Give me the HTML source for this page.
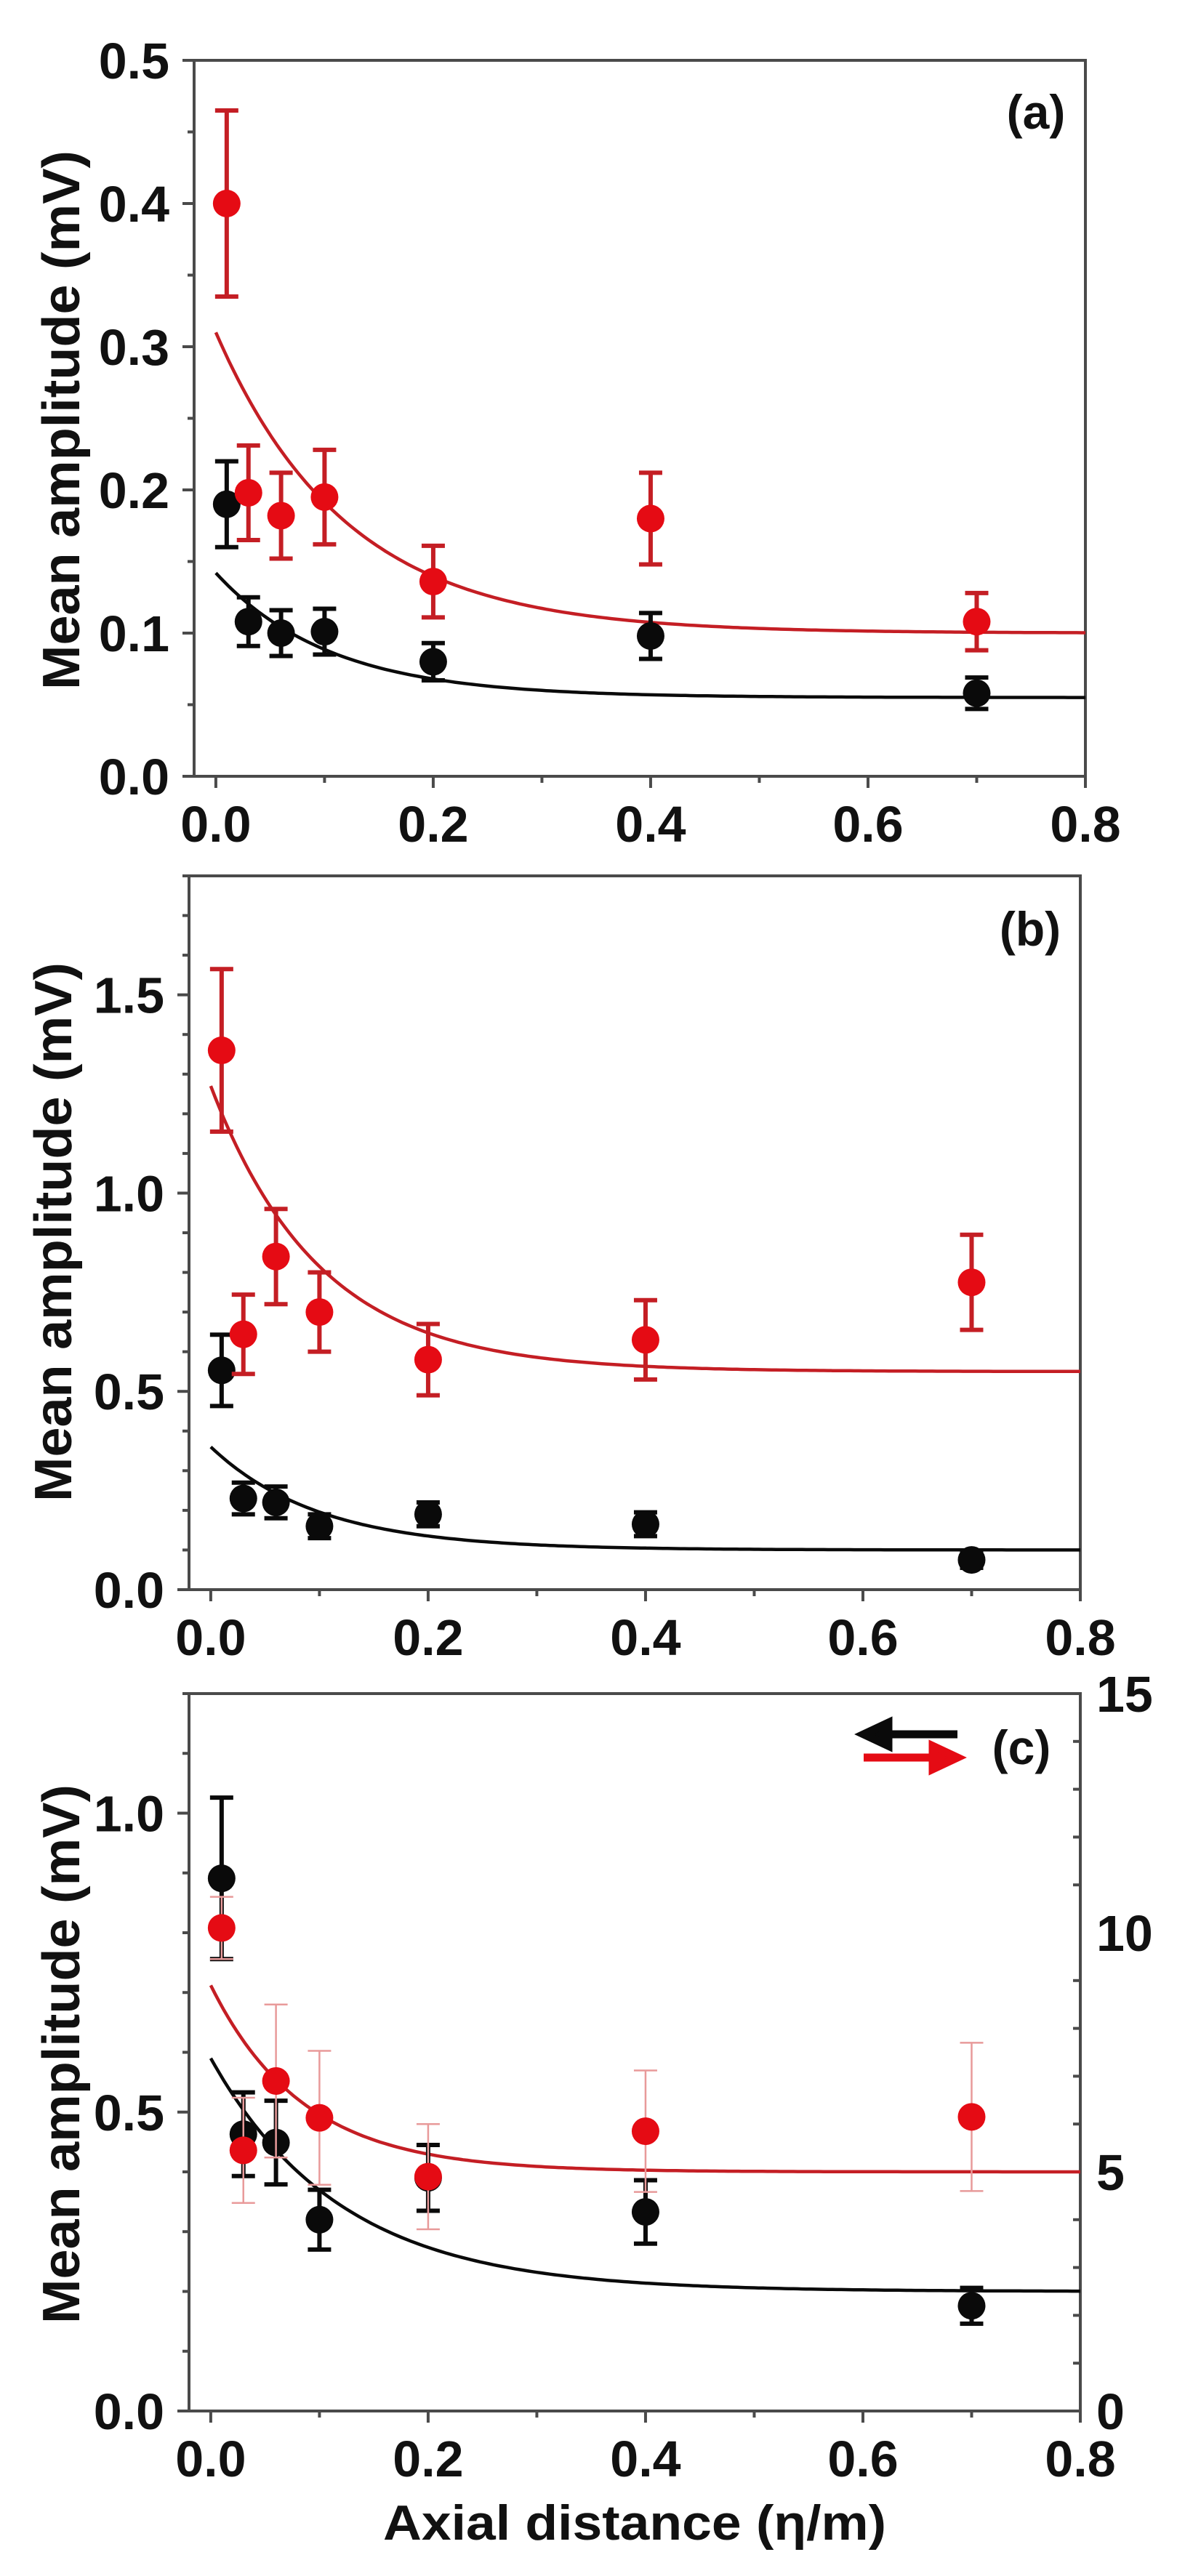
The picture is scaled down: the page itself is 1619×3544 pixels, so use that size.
<!DOCTYPE html>
<html><head><meta charset="utf-8"><style>
html,body{margin:0;padding:0;background:#fff;}
svg{display:block;}
text{font-family:"Liberation Sans",Arial,sans-serif;font-weight:bold;fill:#111;}
</style></head><body>
<svg id="chart" width="1619" height="3544" viewBox="0 0 1619 3544" xmlns="http://www.w3.org/2000/svg">
<rect x="0" y="0" width="1619" height="3544" fill="#fff"/>
</svg>
<script>
// shared x categories
const xValues = [0.01, 0.03, 0.06, 0.1, 0.2, 0.4, 0.7];
const xTicks = [0.0, 0.2, 0.4, 0.6, 0.8];
const xTickLabels = ["0.0", "0.2", "0.4", "0.6", "0.8"];

// panel (a)
const aRed = [0.40, 0.198, 0.182, 0.195, 0.136, 0.180, 0.108];
const aRedErr = [0.065, 0.033, 0.030, 0.033, 0.025, 0.032, 0.020];
const aBlack = [0.190, 0.108, 0.100, 0.101, 0.080, 0.098, 0.058];
const aBlackErr = [0.030, 0.017, 0.016, 0.016, 0.013, 0.016, 0.011];
const aRedFit = [0.100, 0.210, 0.120];   // plateau, amplitude, decay
const aBlackFit = [0.055, 0.087, 0.105];
const aYTicks = [0.0, 0.1, 0.2, 0.3, 0.4, 0.5];
const aYTickLabels = ["0.0", "0.1", "0.2", "0.3", "0.4", "0.5"];

// panel (b)
const bRed = [1.36, 0.644, 0.84, 0.70, 0.58, 0.63, 0.775];
const bRedErr = [0.205, 0.10, 0.12, 0.10, 0.09, 0.10, 0.12];
const bBlack = [0.553, 0.23, 0.22, 0.16, 0.19, 0.165, 0.075];
const bBlackErr = [0.09, 0.04, 0.04, 0.03, 0.03, 0.03, 0.02];
const bRedFit = [0.55, 0.72, 0.10];
const bBlackFit = [0.10, 0.26, 0.10];
const bYTicks = [0.0, 0.5, 1.0, 1.5];
const bYTickLabels = ["0.0", "0.5", "1.0", "1.5"];

// panel (c)
const cBlack = [0.891, 0.463, 0.449, 0.32, 0.39, 0.333, 0.176];
const cBlackErr = [0.135, 0.07, 0.07, 0.05, 0.055, 0.053, 0.03];
const cRed = [10.1, 5.45, 6.9, 6.13, 4.9, 5.85, 6.15];      // right axis units
const cRedErr = [0.65, 1.1, 1.6, 1.4, 1.1, 1.27, 1.55];
const cRedFit = [5.0, 3.9, 0.085];
const cBlackFit = [0.20, 0.39, 0.12];
const cYTicks = [0.0, 0.5, 1.0];
const cYTickLabels = ["0.0", "0.5", "1.0"];
const cY2Ticks = [0, 5, 10, 15];
const cY2TickLabels = ["0", "5", "10", "15"];

const NS = "http://www.w3.org/2000/svg";
const svg = document.getElementById("chart");
const RED = "#e50b14", RED_DARK = "#c41e24", BLACK = "#0a0a0a", AXIS = "#4a4a4a";

function mk(tag, attrs, parent) {
  const e = document.createElementNS(NS, tag);
  for (const k in attrs) e.setAttribute(k, attrs[k]);
  (parent || svg).appendChild(e);
  return e;
}

function panel(cfg) {
  const g = mk("g", {});
  
  
  const L = cfg.left, R = cfg.right, T = cfg.top, B = cfg.bottom;
  const xMin = -0.02, xMax = 0.8;
  const sx = v => L + (v - xMin) / (xMax - xMin) * (R - L);
  const sy = v => B - v / cfg.yMax * (B - T);
  const sy2 = v => B - v / (cfg.y2Max || 1) * (B - T);

  // frame
  const frame = mk("rect", {x: L, y: T, width: R - L, height: B - T, fill: "none", stroke: AXIS, "stroke-width": 4}, g);
  
  

  // x ticks
  for (let v = 0; v <= 0.8001; v += 0.1) {
    const major = Math.abs(v * 5 - Math.round(v * 5)) < 1e-6;
    const t = mk("line", {x1: sx(v), x2: sx(v), y1: B, y2: B + (major ? 16 : 9), stroke: AXIS, "stroke-width": 4}, g);
    
    
  }
  xTicks.forEach((v, i) => {
    const t = mk("text", {x: sx(v), y: B + 90, "font-size": 70, "text-anchor": "middle"}, g);
    t.textContent = xTickLabels[i];
    
    
  });
  // y ticks
  for (let v = 0; v <= cfg.yMax + 1e-6; v += cfg.yMinor) {
    const major = cfg.yTicks.some(m => Math.abs(m - v) < 1e-6);
    const t = mk("line", {x1: L, x2: L - (major ? 16 : 9), y1: sy(v), y2: sy(v), stroke: AXIS, "stroke-width": 4}, g);
    
    
  }
  cfg.yTicks.forEach((v, i) => {
    const t = mk("text", {x: L - 34, y: sy(v) + 25, "font-size": 70, "text-anchor": "end"}, g);
    t.textContent = cfg.yTickLabels[i];
    
    
  });
  // right axis
  if (cfg.y2Max) {
    for (let v = 0; v <= cfg.y2Max; v += 1) {
      const major = v % 5 === 0;
      const t = mk("line", {x1: R, x2: R - (major ? 0 : 10), y1: sy2(v), y2: sy2(v), stroke: AXIS, "stroke-width": 4}, g);
      
      
    }
    cfg.y2Ticks.forEach((v, i) => {
      const t = mk("text", {x: R + 22, y: sy2(v) + 25, "font-size": 70, "text-anchor": "start"}, g);
      t.textContent = cfg.y2TickLabels[i];
      
      
    });
  }
  // y title
  const yt = mk("text", {x: 0, y: 0, "font-size": 72, "text-anchor": "middle", textLength: 742, lengthAdjust: "spacingAndGlyphs",
    transform: "translate(" + (cfg.titleX + 26) + "," + cfg.titleY + ") rotate(-90)"}, g);
  yt.textContent = "Mean amplitude (mV)";
  
  
  // panel label
  const pl = mk("text", {x: cfg.labelX, y: cfg.labelY + 24, "font-size": 66, "text-anchor": "middle"}, g);
  pl.textContent = cfg.label;
  
  

  // fit curves
  function fitPath(p, scale, color, nm) {
    let d = "";
    for (let i = 0; i <= 200; i++) {
      const x = 0.8 * i / 200;
      const y = p[0] + p[1] * Math.exp(-x / p[2]);
      d += (i ? "L" : "M") + sx(x).toFixed(1) + "," + scale(y).toFixed(1);
    }
    const e = mk("path", {d: d, fill: "none", stroke: color, "stroke-width": 4.5}, g);
    
    
  }
  // series
  function series(vals, errs, scale, color, barColor, barW, nm) {
    const sg = mk("g", {}, g);
    
    
    xValues.forEach((x, i) => {
      const cx = sx(x), cy = scale(vals[i]);
      const y1 = scale(vals[i] + errs[i]), y2 = scale(vals[i] - errs[i]);
      const bar = mk("path", {d: "M" + cx + "," + y1 + "V" + y2 + "M" + (cx - 16) + "," + y1 + "H" + (cx + 16) + "M" + (cx - 16) + "," + y2 + "H" + (cx + 16),
        stroke: barColor, "stroke-width": barW, fill: "none"}, sg);
      
      
      const c = mk("circle", {cx: cx, cy: cy, r: 19, fill: color}, sg);
      
      
    });
  }
  const redScale = cfg.redRight ? sy2 : sy;
  fitPath(cfg.redFit, redScale, RED_DARK, "red-fit-curve");
  fitPath(cfg.blackFit, sy, BLACK, "black-fit-curve");
  series(cfg.black, cfg.blackErr, sy, BLACK, BLACK, 6, "black-series");
  series(cfg.red, cfg.redErr, redScale, RED, cfg.redRight ? "#e89a9a" : RED_DARK, cfg.redRight ? 2.5 : 6, "red-series");
  return {g, sx, sy};
}

panel({name: "panel-a", left: 267, right: 1493, top: 83, bottom: 1068, yMax: 0.5, yMinor: 0.05,
  yTicks: aYTicks, yTickLabels: aYTickLabels, red: aRed, redErr: aRedErr, black: aBlack, blackErr: aBlackErr,
  redFit: aRedFit, blackFit: aBlackFit, label: "(a)", labelX: 1425, labelY: 153, titleX: 83, titleY: 578});
panel({name: "panel-b", left: 260, right: 1486, top: 1205, bottom: 2187, yMax: 1.8, yMinor: 0.1,
  yTicks: bYTicks, yTickLabels: bYTickLabels, red: bRed, redErr: bRedErr, black: bBlack, blackErr: bBlackErr,
  redFit: bRedFit, blackFit: bBlackFit, label: "(b)", labelX: 1417, labelY: 1277, titleX: 72, titleY: 1695});
const pc = panel({name: "panel-c", left: 260, right: 1486, top: 2330, bottom: 3317, yMax: 1.2, yMinor: 0.1, y2Max: 15,
  yTicks: cYTicks, yTickLabels: cYTickLabels, y2Ticks: cY2Ticks, y2TickLabels: cY2TickLabels, redRight: true,
  red: cRed, redErr: cRedErr, black: cBlack, blackErr: cBlackErr,
  redFit: cRedFit, blackFit: cBlackFit, label: "(c)", labelX: 1405, labelY: 2403, titleX: 83, titleY: 2826});

// arrows in panel c
const arrBlack = mk("path", {d: "M1317,2386 H1212 M1188,2386 L1222,2370 L1222,2402 Z", stroke: BLACK, "stroke-width": 11, fill: BLACK, "stroke-linejoin": "miter"}, pc.g);


const arrRed = mk("path", {d: "M1188,2418 H1293 M1317,2418 L1283,2402 L1283,2434 Z", stroke: RED, "stroke-width": 11, fill: RED, "stroke-linejoin": "miter"}, pc.g);



// x-axis title
const xt = mk("text", {x: 873, y: 3494, "font-size": 68, "text-anchor": "middle", textLength: 692, lengthAdjust: "spacingAndGlyphs"});
xt.textContent = "Axial distance (η/m)";


</script>
</body></html>
